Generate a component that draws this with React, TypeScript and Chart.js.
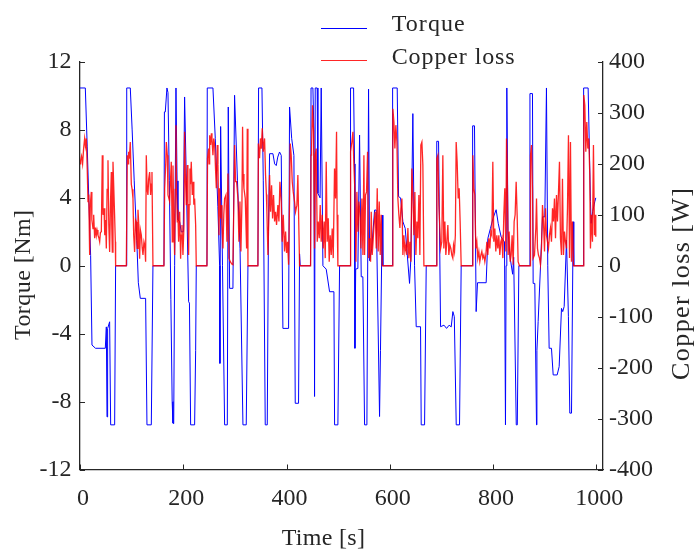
import React, { useEffect, useRef } from "react";
import { Chart, registerables } from "chart.js";

Chart.register(...registerables);

// ---- tick labels ----
const xTicks = [0, 200, 400, 600, 800, 1000];
const torqueTicks = [-12, -8, -4, 0, 4, 8, 12];
const lossTicks = [-400, -300, -200, -100, 0, 100, 200, 300, 400];

// ---- series labels ----
const seriesNames = ["Torque", "Copper loss"];
const axisTitles = ["Time [s]", "Torque [Nm]", "Copper loss [W]"];

// ---- Torque series (time [s], torque [Nm]) ----
const torqueTime = [
  0, 10.3, 14, 17, 20.6, 23.2, 30, 49, 51, 52.3, 53.5, 57.4, 59.4, 67.1, 69, 89.7, 90.5, 97.4, 101, 105,
  110, 113, 116.8, 127.1, 129.7, 138.1, 141.3, 162.6, 163.5, 165.2, 168.4, 170.4, 173, 176, 178.5, 180, 181.5, 183.3, 185.9, 188,
  189.7, 193, 196, 200, 202.6, 206, 210.4, 212, 214.3, 222, 224, 225.2, 245.9, 246.5, 257.5, 262, 267, 270.4, 271, 272.4,
  276, 280.1, 285.3, 287.2, 289.8, 296.2, 299.4, 305, 310, 315.6, 322, 325.3, 344.6, 345.9, 352.4, 355, 358.8, 362.7, 365, 367.2,
  373.7, 377, 380.1, 383, 386.5, 389.8, 393, 404, 405.9, 410, 414.3, 416.9, 423.3, 425.3, 426.6, 446.6, 447.5, 451.1, 453, 454.3,
  455.6, 459.4, 460.8, 465, 467.2, 470.5, 476.9, 483.4, 491.8, 493.1, 499.5, 502.8, 523.4, 524, 529.9, 531.8, 532.5, 534, 538.2, 541.5,
  544.7, 547.9, 551.2, 555.7, 558.9, 560.9, 565, 570.6, 573.8, 580.2, 582, 585.4, 586.6, 604.7, 605.5, 614.4, 617, 620.9, 625.4, 629.9,
  633, 638.3, 641, 644.7, 648, 651.2, 659.6, 660.9, 667.4, 670.6, 690, 691, 694.5, 698.4, 705, 710, 715, 719, 722.2, 725,
  728.7, 735.1, 738.3, 759.6, 760.5, 764.1, 767.3, 770, 786.7, 789.9, 795, 800, 806, 810, 815.7, 822.2, 824.1, 825.3, 826.7, 829,
  833, 838, 840, 845, 847, 850, 870.6, 871.5, 876.4, 877.7, 880.9, 884.2, 885, 887.4, 892, 895.8, 900.3, 903.5, 906, 908.7,
  913.2, 916.5, 924.2, 928.1, 932.6, 935, 937.8, 942.3, 946, 948.7, 952, 955.2, 956.4, 974.5, 975.5, 984.2, 988.7, 990, 993, 997.1,
  999,
];
const torqueNm = [
  10.47, 10.47, 7, 4, 0.6, -4.67, -4.86, -4.86, -3.6, -8.9, -3.7, -3.3, -9.37, -9.37, 0, 0, 10.47, 10.47, 8, 5,
  1.5, -1, -1.92, -1.92, -9.37, -9.37, 0, 0, 9.06, 9.06, 10.47, 10.2, 5, -2, -8, -9.27, -9.3, 0, 10.47, 5,
  2.7, 2.6, 2.0, 2.0, 9.94, 5, -2.12, -2.2, -9.37, -9.37, -5, 0, 0, 10.47, 10.47, 7.5, 3.5, 0, -5.75, 8.2,
  0, -9.37, -9.37, 9.35, -1.33, -1.33, 10.04, 5, 1, -9.37, -9.37, 0, 0, 10.47, 10.47, 5, -9.37, -9.37, 2, 6.6,
  6.6, 6.0, 5.9, 6.4, 6.7, 6.5, -3.69, -3.69, 9.35, 7.5, 6.5, -8.1, -8.1, 0.7, 0, 0, 10.47, 10.47, 8, -7.7,
  10.47, 10.47, 4.26, 4.0, 10.47, 0, -0.2, -1.53, -1.53, -9.37, -9.37, 0, 0, 10.47, 10.47, 6, -4.86, -0.2, -0.16, 7.7,
  -0.65, -0.65, -9.37, -9.37, 10.4, 0.3, 1, 3.28, 3.28, -8.88, -5, 2.98, 0, 0, 10.47, 10.47, 4.07, 4.0, 2.6, 2.2,
  1.0, -1.04, 0.5, 8.96, 0, -3.59, -3.59, -9.37, -9.37, 0, 0, 7.33, 7.33, -3.59, -3.5, -3.69, -3.5, -3.6, -2.7, -3.0,
  -9.37, -9.37, 0, 0, 8.24, 8.24, -2.7, -1.0, -1.0, 1.6, 2.2, 2.8, 3.3, 2.5, 1.7, 1.4, -9.37, 0, 10.47, 2,
  0.5, -0.5, 0.5, -9.37, -9.37, 0, 0, 10.14, 10.14, -1.04, -1.04, -9.37, -5, -3.29, 0, 2.88, 2.88, 10.47, 0, -4.86,
  -4.86, -6.43, -6.43, -5.94, -2.51, -2.7, -2.4, 1.5, -3, -8.68, -8.68, 2.59, 0, 0, 10.47, 10.47, 3.77, 2.5, 3.2, 3.77,
  4.0,
];

// ---- Copper loss series (time [s], loss [W]) ----
const lossTime = [
  0, 1.3, 3, 5, 7, 9, 10.5, 12.3, 14, 15.5, 17, 18.7, 20, 21.9, 23, 25.2, 26.5, 28.4, 30, 31.6,
  33, 34.8, 36.5, 38.1, 39.5, 41.3, 43.2, 44.5, 46.5, 48, 49.5, 51, 52.5, 54.2, 55.8, 57.4, 59, 60.7, 61.5, 62.6,
  63.9, 65.5, 67, 68.4, 69, 89.7, 91.6, 93, 94.2, 95.5, 97.4, 99.4, 101, 102.6, 104, 105.8, 107.5, 109, 110, 111,
  112.3, 113.6, 115.5, 117, 118.8, 120.5, 122, 123.9, 125.5, 127.1, 128.4, 130, 131.6, 133, 134.9, 136.8, 138, 139.4, 141.3, 162.6,
  164, 166, 167.2, 169.1, 170.4, 173.6, 176.8, 178.8, 180.1, 181.5, 183.3, 184.5, 185.9, 187, 188.5, 189.5, 191, 193, 194.9, 196,
  197.5, 199.4, 201.4, 202.6, 204, 205.9, 207.8, 209, 210.4, 211.5, 213, 214, 215.5, 217.5, 219.4, 220.5, 222, 224, 225.2, 245.9,
  247, 249.1, 250, 251.1, 253, 254.5, 255.6, 257.5, 259, 260.8, 262.7, 264, 266, 267.2, 269.2, 270.4, 272.4, 273.6, 275, 276.9,
  278.5, 280.1, 282.7, 284.6, 286.6, 288.5, 291.1, 293, 294.5, 296.2, 298.2, 299.4, 301.4, 303.3, 305.9, 307.8, 309.8, 311.7, 313.7, 314.9,
  316, 317.5, 320.1, 322.7, 324, 325.3, 344.6, 345.5, 347.8, 349.5, 351.1, 353, 354.9, 357.5, 359.4, 361, 362, 364, 365.9, 367.2,
  369.1, 371.1, 373, 374.9, 376.9, 378.8, 380.7, 383.3, 385.3, 387.2, 389.8, 391.7, 393.7, 396.2, 398.2, 400.1, 402, 404, 405.9, 407.2,
  409.1, 411.1, 413, 415.6, 417.5, 420.1, 422, 423.3, 425.3, 446.6, 447.5, 448.5, 450.4, 452.4, 454.3, 455.6, 457.5, 459.5, 461.4, 463.4,
  465.3, 467.2, 469.2, 471.1, 473, 475, 476.9, 478.8, 480.8, 482.7, 484.6, 486.6, 488.5, 490.5, 493, 495, 496.9, 498, 499.5, 523.4,
  524.1, 526.6, 528.6, 530.5, 532.5, 534.4, 536.3, 538.3, 540.2, 542.1, 544.1, 546, 548, 549.9, 551.2, 553.1, 555, 557, 558.9, 560.9,
  562.8, 564.1, 566, 568, 569.9, 571.8, 573.8, 575.7, 577.6, 579.6, 581.5, 583.4, 585.4, 604.7, 606, 608, 609.9, 611.8, 613.8, 615.7,
  617.6, 619.6, 621.5, 623.5, 625.4, 627.3, 629.3, 631.2, 633.1, 635.1, 637, 639, 640.9, 642.8, 644.8, 646.7, 648.6, 650.6, 652.5, 654.4,
  656.4, 658.3, 660.2, 662.2, 664.1, 666.1, 689.9, 691.2, 693.2, 695.1, 697, 698.5, 700.8, 702.8, 704.7, 706.7, 708.6, 710.5, 712.5, 714.4,
  716.3, 718.3, 720.2, 722.1, 723.5, 725.4, 727, 728.6, 730.5, 732.5, 734.4, 736.3, 738.3, 759.6, 760.9, 762.8, 764.7, 766.7, 768.6, 770.5,
  772.5, 774.4, 776.4, 778.3, 780.2, 782.2, 784.1, 786, 788, 789.9, 791.8, 793.8, 795.7, 797.7, 799.6, 801.5, 803.5, 805.4, 807.3, 809.3,
  811.2, 813.1, 815.1, 817, 819, 820.9, 822.8, 824.8, 826.1, 827.3, 829.3, 831.2, 833.2, 835.1, 837, 839, 840.9, 842.8, 844.8, 846.7,
  848.6, 851.2, 871.9, 872.6, 874.5, 876.4, 877.7, 880.3, 882.9, 884.2, 886.1, 888, 890, 891.9, 893.9, 895.8, 897.7, 899.7, 901.6, 903.5,
  905.5, 907.4, 909.3, 911.3, 913.2, 915.2, 917.1, 919, 921, 922.9, 924.8, 926.8, 928.7, 930.6, 932.6, 934.5, 936.4, 938.4, 940.3, 942.3,
  944.2, 946.1, 948.1, 950, 951.9, 953.9, 955.8, 974.5, 975.8, 977.8, 979.7, 981.6, 983.6, 985.5, 987.4, 988.7, 990.6, 992.6, 994.5, 996.5,
  998.4, 999,
];
const lossW = [
  200, 207, 215, 200, 230, 250, 235, 250, 190, 126, 140, 21, 120, 145, 90, 73, 100, 54, 75, 60,
  70, 60, 55, 47, 65, 67, 217, 100, 113, 60, 90, 34, 150, 207, 80, 27, 120, 184, 80, 27,
  204, 150, 100, 47, 0, 0, 217, 200, 224, 210, 243, 160, 150, 132, 60, 27, 90, 86, 50, 34,
  110, 86, 14, 70, 60, 35, 21, 47, 40, 8, 217, 150, 139, 170, 184, 139, 160, 184, 0, 0,
  152, 200, 243, 217, 139, 126, 204, 47, 197, 100, 21, 150, 276, 150, 86, 110, 47, 106, 14, 60,
  80, 21, 80, 263, 180, 119, 198, 100, 21, 120, 191, 160, 204, 139, 165, 120, 132, 80, 0, 0,
  211, 230, 200, 256, 237, 260, 250, 217, 250, 237, 185, 152, 237, 198, 60, 152, 93, 119, 80, 34,
  100, 132, 139, 47, 181, 15, 8, 5, 3, 2, 139, 237, 165, 165, 132, 47, 126, 28, 126, 273,
  180, 152, 132, 34, 269, 0, 0, 240, 211, 250, 230, 270, 224, 250, 178, 140, 106, 21, 100, 178,
  106, 158, 93, 139, 87, 106, 80, 119, 87, 165, 126, 47, 100, 28, 67, 25, 47, 2, 126, 240,
  217, 165, 145, 126, 106, 119, 178, 106, 0, 0, 217, 230, 315, 263, 34, 217, 230, 47, 87, 54,
  119, 47, 100, 34, 87, 15, 204, 47, 93, 8, 60, 21, 73, 15, 191, 132, 263, 100, 0, 0,
  224, 243, 263, 198, 145, 8, 145, 67, 126, 106, 34, 132, 21, 217, 21, 139, 145, 224, 15, 54,
  8, 106, 21, 54, 87, 106, 34, 152, 28, 126, 21, 100, 0, 0, 308, 282, 230, 276, 243, 132,
  100, 74, 113, 132, 21, 60, 28, 41, 21, 74, 15, 47, 8, 191, 139, 60, 145, 21, 87, 54,
  139, 21, 237, 243, 198, 0, 0, 211, 217, 119, 74, 34, 47, 217, 34, 87, 21, 47, 80, 21,
  41, 34, 21, 15, 40, 28, 60, 243, 204, 132, 152, 87, 0, 0, 217, 152, 139, 34, 47, 15,
  28, 8, 21, 28, 15, 21, 8, 21, 47, 21, 54, 34, 67, 60, 204, 47, 73, 28, 60, 34,
  60, 21, 47, 54, 15, 100, 152, 28, 250, 204, 21, 67, 8, 21, 60, 2, 87, 100, 165, 100,
  8, 0, 0, 217, 237, 152, 15, 21, 74, 132, 34, 21, 15, 2, 34, 119, 87, 28, 113, 60,
  47, 34, 60, 74, 47, 113, 87, 132, 54, 139, 87, 145, 204, 54, 21, 171, 21, 67, 47, 34,
  113, 256, 15, 243, 8, 87, 0, 0, 335, 315, 224, 282, 230, 250, 178, 34, 100, 47, 237, 60,
  100, 57,
];

const FONT = '"Liberation Serif", "Times New Roman", serif';
const INK = "#262626";
const BLUE = "#0000ff";
const RED = "rgba(255,0,0,0.85)";

function drawFitted(
  ctx: CanvasRenderingContext2D,
  text: string,
  cx: number,
  baseline: number,
  target: number,
  rotate: boolean,
  size = 24
) {
  ctx.save();
  ctx.font = `${size}px ${FONT}`;
  ctx.fillStyle = INK;
  ctx.textBaseline = "alphabetic";
  ctx.textAlign = "left";
  (ctx as any).letterSpacing = "0px";
  const w0 = ctx.measureText(text).width;
  let spacing = 0;
  if (Math.abs(target - w0) > 2 && text.length > 1) spacing = (target - w0) / (text.length - 1);
  (ctx as any).letterSpacing = `${spacing}px`;
  const w = w0 + spacing * (text.length - 1);
  if (rotate) {
    ctx.translate(baseline, cx);
    ctx.rotate(-Math.PI / 2);
    ctx.fillText(text, -w / 2, 0);
  } else {
    ctx.fillText(text, cx - w / 2, baseline);
  }
  ctx.restore();
}

const decorPlugin = {
  id: "decor",
  afterDraw(chart: any) {
    const ctx: CanvasRenderingContext2D = chart.ctx;
    const { left, right, bottom } = chart.chartArea;
    const sx = chart.scales.x;
    const sy = chart.scales.y;
    const sy1 = chart.scales.y1;
    ctx.save();
    ctx.strokeStyle = INK;
    ctx.lineWidth = 1;
    ctx.beginPath();
    sx.ticks.forEach((t: any) => {
      const p = Math.round(sx.getPixelForValue(t.value)) + 0.5;
      ctx.moveTo(p, bottom);
      ctx.lineTo(p, bottom - 5);
    });
    sy.ticks.forEach((t: any) => {
      const p = Math.round(sy.getPixelForValue(t.value)) + 0.5;
      ctx.moveTo(left, p);
      ctx.lineTo(left + 5, p);
    });
    sy1.ticks.forEach((t: any) => {
      const p = Math.round(sy1.getPixelForValue(t.value)) + 0.5;
      ctx.moveTo(right, p);
      ctx.lineTo(right - 5, p);
    });
    ctx.stroke();
    ctx.restore();

    // legend
    ctx.save();
    ctx.lineWidth = 1.2;
    ctx.strokeStyle = BLUE;
    ctx.beginPath();
    ctx.moveTo(321, 28.5);
    ctx.lineTo(367, 28.5);
    ctx.stroke();
    ctx.strokeStyle = RED;
    ctx.beginPath();
    ctx.moveTo(321, 60.5);
    ctx.lineTo(367, 60.5);
    ctx.stroke();
    ctx.restore();
    drawFitted(ctx, seriesNames[0], 391.7 + 73 / 2, 31, 73, false);
    drawFitted(ctx, seriesNames[1], 391.7 + 123 / 2, 64.3, 123, false);

    // axis titles
    drawFitted(ctx, axisTitles[0], 323.3, 544.5, 83.3, false);
    drawFitted(ctx, axisTitles[1], 275, 30, 130, true);
    drawFitted(ctx, axisTitles[2], 284, 689, 192, true, 26);
  },
};

export default function App() {
  const ref = useRef<HTMLCanvasElement>(null);
  useEffect(() => {
    if (!ref.current) return;
    const tickFont = { family: FONT, size: 24 };
    const chart = new Chart(ref.current, {
      type: "line",
      data: {
        datasets: [
          {
            label: seriesNames[1],
            data: lossTime.map((t, i) => ({ x: t, y: lossW[i] })),
            borderColor: RED,
            borderWidth: 1.3,
            pointRadius: 0,
            tension: 0,
            yAxisID: "y1",
          },
          {
            label: seriesNames[0],
            data: torqueTime.map((t, i) => ({ x: t, y: torqueNm[i] })),
            borderColor: BLUE,
            borderWidth: 1,
            pointRadius: 0,
            tension: 0,
            yAxisID: "y",
          },
        ],
      },
      options: {
        responsive: false,
        animation: false,
        devicePixelRatio: 1,
        layout: { padding: { top: 62, left: 0, right: 0, bottom: 0 } },
        plugins: {
          legend: { display: false },
          tooltip: { enabled: false },
          title: { display: false },
        },
        scales: {
          x: {
            type: "linear",
            position: "bottom",
            min: 0,
            max: 1013,
            afterBuildTicks: (s: any) => {
              s.ticks = xTicks.map((v) => ({ value: v }));
            },
            afterFit: (s: any) => {
              s.height = 80.5;
            },
            grid: { display: true, drawOnChartArea: false, drawTicks: false },
            border: { display: true, color: INK, width: 1.3 },
            ticks: {
              color: INK,
              font: tickFont,
              padding: 15,
              labelOffset: 3,
              maxRotation: 0,
              autoSkip: false,
              callback: (v: any) => String(v),
            },
          },
          y: {
            type: "linear",
            position: "left",
            min: -12,
            max: 12,
            afterBuildTicks: (s: any) => {
              s.ticks = torqueTicks.map((v) => ({ value: v }));
            },
            afterFit: (s: any) => {
              s.width = 80;
            },
            grid: { display: true, drawOnChartArea: false, drawTicks: false },
            border: { display: true, color: INK, width: 1.3 },
            ticks: {
              color: INK,
              font: tickFont,
              padding: 8.5,
              autoSkip: false,
              callback: (v: any) => String(v),
            },
          },
          y1: {
            type: "linear",
            position: "right",
            min: -400,
            max: 400,
            afterBuildTicks: (s: any) => {
              s.ticks = lossTicks.map((v) => ({ value: v }));
            },
            afterFit: (s: any) => {
              s.width = 91;
            },
            grid: { display: true, drawOnChartArea: false, drawTicks: false },
            border: { display: true, color: INK, width: 1.3 },
            ticks: {
              color: INK,
              font: tickFont,
              padding: 6,
              autoSkip: false,
              callback: (v: any) => String(v),
            },
          },
        },
      },
      plugins: [decorPlugin],
    } as any);
    return () => chart.destroy();
  }, []);

  return (
    <div style={{ position: "fixed", left: 0, top: 0, width: 694, height: 550, background: "#fff" }}>
      <canvas ref={ref} width={694} height={550} style={{ display: "block" }} />
    </div>
  );
}
